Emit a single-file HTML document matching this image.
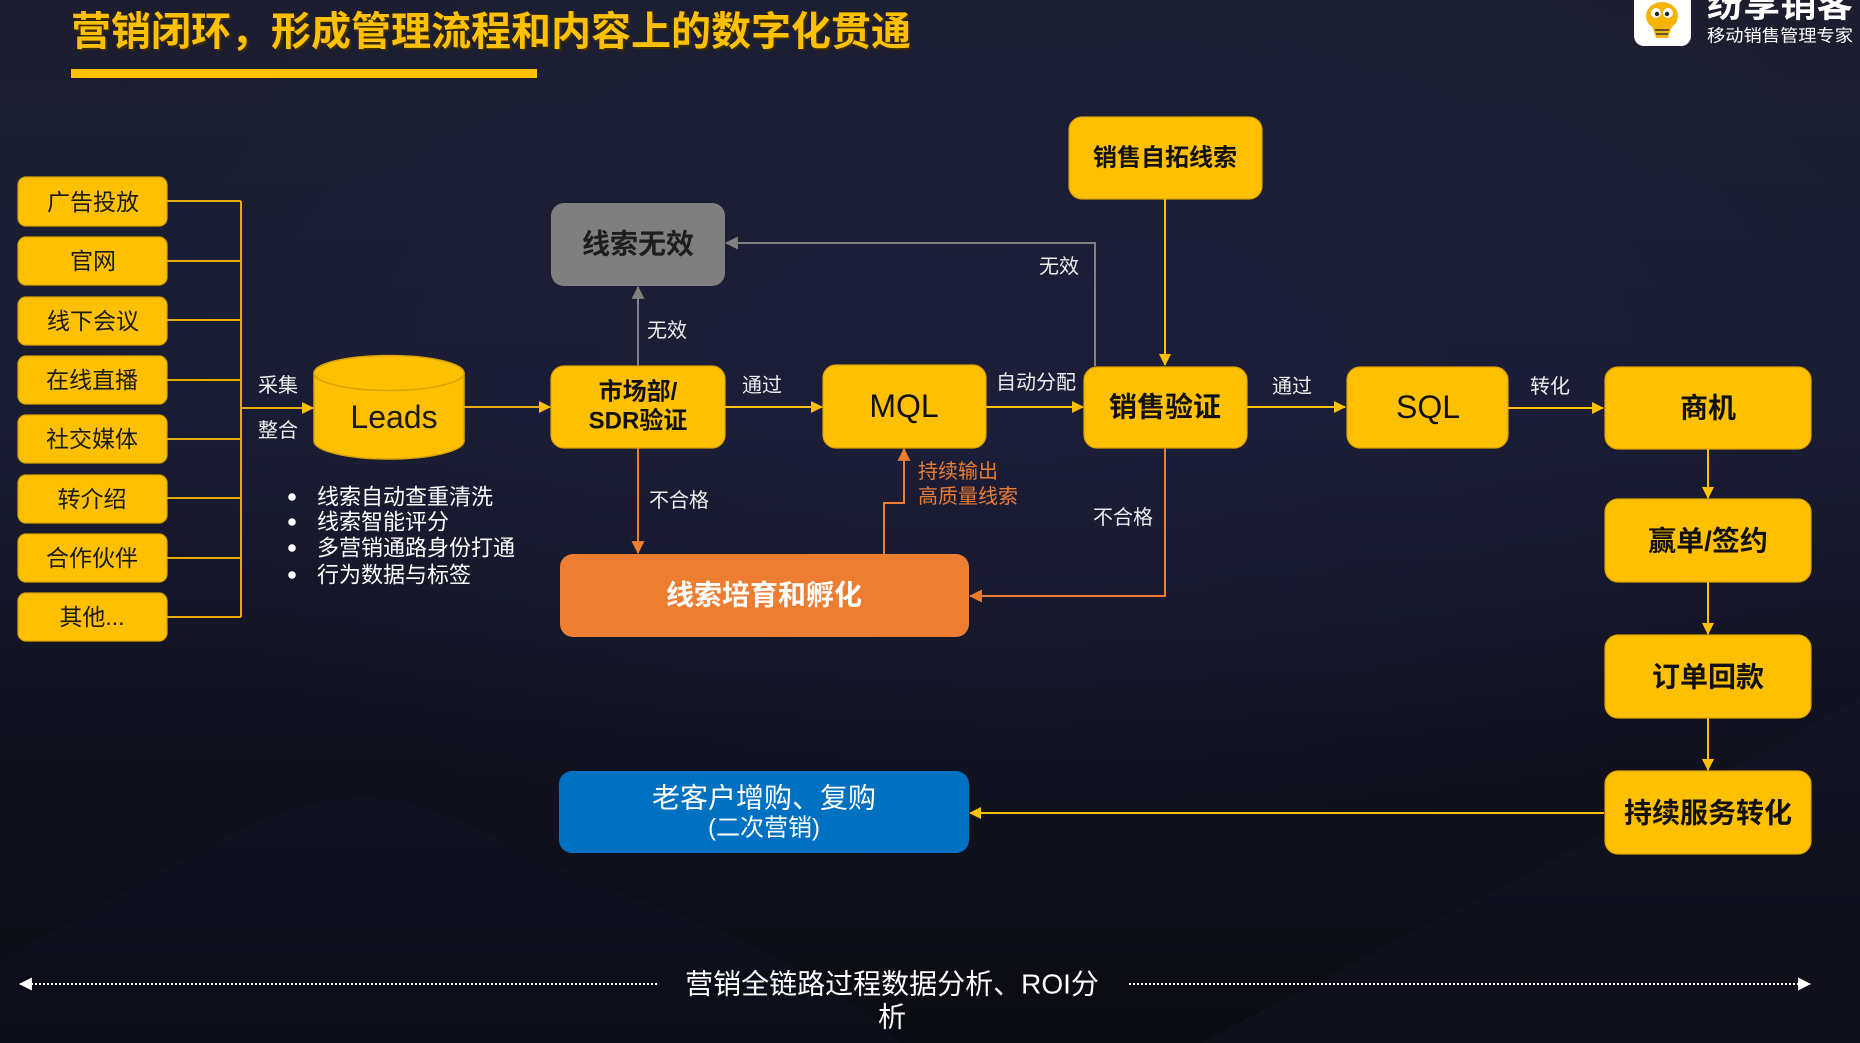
<!DOCTYPE html>
<html><head><meta charset="utf-8">
<style>
html,body{margin:0;padding:0;}
body{width:1860px;height:1043px;overflow:hidden;background:#11121d;}
svg{display:block;}
text{font-family:"Liberation Sans","Noto Sans CJK SC",sans-serif;}
</style></head>
<body>
<svg width="1860" height="1043" viewBox="0 0 1860 1043" xmlns="http://www.w3.org/2000/svg">
<defs>
<linearGradient id="bg" x1="0" y1="0" x2="0" y2="1">
<stop offset="0" stop-color="#1c1e30"/>
<stop offset="0.4" stop-color="#1a1c33"/>
<stop offset="0.7" stop-color="#11121f"/>
<stop offset="1" stop-color="#0a0b12"/>
</linearGradient>
<radialGradient id="glow" cx="0.55" cy="0.35" r="0.5">
<stop offset="0" stop-color="#1f2140" stop-opacity="0.5"/>
<stop offset="1" stop-color="#1f2140" stop-opacity="0"/>
</radialGradient>
<marker id="ay" viewBox="0 0 12 12" refX="11" refY="6" markerWidth="12" markerHeight="12" markerUnits="userSpaceOnUse" orient="auto"><path d="M0,0 L12,6 L0,12 z" fill="#FFC000"/></marker>
<marker id="ag" viewBox="0 0 12 12" refX="11" refY="6" markerWidth="13" markerHeight="13" markerUnits="userSpaceOnUse" orient="auto"><path d="M0,0 L12,6 L0,12 z" fill="#808080"/></marker>
<marker id="ao" viewBox="0 0 12 12" refX="11" refY="6" markerWidth="13" markerHeight="13" markerUnits="userSpaceOnUse" orient="auto"><path d="M0,0 L12,6 L0,12 z" fill="#ED7D31"/></marker>
<marker id="aw" viewBox="0 0 12 12" refX="11" refY="6" markerWidth="13" markerHeight="13" markerUnits="userSpaceOnUse" orient="auto"><path d="M0,0 L12,6 L0,12 z" fill="#ffffff"/></marker>
</defs>
<rect width="1860" height="1043" fill="url(#bg)"/>
<rect width="1860" height="1043" fill="url(#glow)"/>
<path d="M0,1043 L0,960 C120,900 220,820 330,800 C430,780 520,860 640,900 C760,940 860,1000 900,1043 Z" fill="#1a1d48" opacity="0.12"/>
<path d="M1200,1043 L1860,700 L1860,1043 Z" fill="#1a1c2e" opacity="0.25"/>

<!-- Title -->
<text x="73" y="34" font-size="40" font-weight="700" fill="#3a2c00" dominant-baseline="central">营销闭环，形成管理流程和内容上的数字化贯通</text>
<text x="71" y="32" font-size="40" font-weight="700" fill="#FFC000" dominant-baseline="central">营销闭环，形成管理流程和内容上的数字化贯通</text>
<rect x="71" y="69" width="466" height="9" fill="#FFC000"/>

<!-- Logo -->
<rect x="1634" y="-12" width="57" height="58" rx="10" fill="#ffffff"/>
<ellipse cx="1662" cy="16" rx="16" ry="14" fill="#F5B400"/>
<path d="M1652,26 L1672,26 L1668,38 L1656,38 Z" fill="#F5B400"/>
<line x1="1655" y1="30" x2="1669" y2="30" stroke="#333" stroke-width="1.5"/>
<line x1="1656" y1="34" x2="1668" y2="34" stroke="#333" stroke-width="1.5"/>
<circle cx="1656" cy="13" r="5" fill="#fff"/><circle cx="1668" cy="13" r="5" fill="#fff"/>
<circle cx="1657" cy="14" r="2.2" fill="#222"/><circle cx="1667" cy="14" r="2.2" fill="#222"/>
<text x="1707" y="4" font-size="36" font-weight="700" fill="#ffffff" dominant-baseline="central" textLength="146" lengthAdjust="spacingAndGlyphs">纷享销客</text>
<text x="1707" y="36" font-size="17" fill="#ffffff" dominant-baseline="central" textLength="146" lengthAdjust="spacingAndGlyphs">移动销售管理专家</text>

<!-- Left sources -->
<g fill="#FFC000" stroke="#D9A300" stroke-width="1.2">
<rect x="18" y="177" width="149" height="49" rx="8"/>
<rect x="18" y="237" width="149" height="48" rx="8"/>
<rect x="18" y="297" width="149" height="48" rx="8"/>
<rect x="18" y="356" width="149" height="48" rx="8"/>
<rect x="18" y="415" width="149" height="48" rx="8"/>
<rect x="18" y="475" width="149" height="48" rx="8"/>
<rect x="18" y="534" width="149" height="48" rx="8"/>
<rect x="18" y="593" width="149" height="48" rx="8"/>
</g>
<g font-size="23" fill="#1a1a1a" text-anchor="middle" dominant-baseline="central">
<text x="93" y="202">广告投放</text>
<text x="93" y="261">官网</text>
<text x="93" y="321">线下会议</text>
<text x="92" y="380">在线直播</text>
<text x="92" y="439">社交媒体</text>
<text x="92" y="499">转介绍</text>
<text x="92" y="558">合作伙伴</text>
<text x="92" y="617">其他...</text>
</g>
<g stroke="#E6AC00" stroke-width="2" fill="none">
<path d="M167,201 H241 M167,261 H241 M167,320 H241 M167,380 H241 M167,439 H241 M167,498 H241 M167,558 H241 M167,617 H241"/>
<line x1="241" y1="201" x2="241" y2="617"/>
</g>
<line x1="241" y1="408" x2="313" y2="408" stroke="#E6AC00" stroke-width="2" marker-end="url(#ay)"/>
<text x="258" y="386" font-size="20" fill="#f0f0f0" dominant-baseline="central">采集</text>
<text x="258" y="431" font-size="20" fill="#f0f0f0" dominant-baseline="central">整合</text>

<!-- Cylinder -->
<path d="M314,373 L314,441 A75,18 0 0 0 464,441 L464,373 Z" fill="#FFC000" stroke="#D9A300" stroke-width="1.5"/>
<ellipse cx="389" cy="373" rx="75" ry="17.5" fill="#FFC000" stroke="#D9A300" stroke-width="1.5"/>
<text x="394" y="417" font-size="32" fill="#1a1a1a" text-anchor="middle" dominant-baseline="central">Leads</text>
<line x1="464" y1="407" x2="550" y2="407" stroke="#E6AC00" stroke-width="2" marker-end="url(#ay)"/>

<!-- Bullets -->
<g fill="#ffffff"><circle cx="292" cy="497" r="3.8"/><circle cx="292" cy="522" r="3.8"/><circle cx="292" cy="548" r="3.8"/><circle cx="292" cy="575" r="3.8"/></g>
<g font-size="22" fill="#ffffff" dominant-baseline="central">
<text x="317" y="497">线索自动查重清洗</text>
<text x="317" y="522">线索智能评分</text>
<text x="317" y="548">多营销通路身份打通</text>
<text x="317" y="575">行为数据与标签</text>
</g>

<!-- 线索无效 -->
<rect x="551" y="203" width="174" height="83" rx="13" fill="#7F7F7F"/>
<text x="638" y="244" font-size="28" font-weight="700" fill="#1e1e1e" text-anchor="middle" dominant-baseline="central">线索无效</text>

<!-- 市场部 -->
<rect x="551" y="366" width="174" height="82" rx="13" fill="#FFC000" stroke="#D9A300" stroke-width="1.2"/>
<text x="638" y="392" font-size="24" font-weight="700" fill="#111" text-anchor="middle" dominant-baseline="central">市场部/</text>
<text x="638" y="421" font-size="24" font-weight="700" fill="#111" text-anchor="middle" dominant-baseline="central">SDR验证</text>

<!-- gray connectors -->
<line x1="638" y1="366" x2="638" y2="287" stroke="#808080" stroke-width="2" marker-end="url(#ag)"/>
<text x="647" y="331" font-size="20" fill="#eeeeee" dominant-baseline="central">无效</text>
<path d="M1095,366 V243 H726" fill="none" stroke="#808080" stroke-width="2" marker-end="url(#ag)"/>
<text x="1039" y="267" font-size="20" fill="#eeeeee" dominant-baseline="central">无效</text>

<!-- MQL -->
<line x1="725" y1="407" x2="822" y2="407" stroke="#FFC000" stroke-width="2" marker-end="url(#ay)"/>
<text x="742" y="386" font-size="20" fill="#eeeeee" dominant-baseline="central">通过</text>
<rect x="823" y="365" width="163" height="83" rx="13" fill="#FFC000" stroke="#D9A300" stroke-width="1.2"/>
<text x="904" y="406" font-size="32" fill="#111" text-anchor="middle" dominant-baseline="central">MQL</text>
<line x1="986" y1="407" x2="1083" y2="407" stroke="#FFC000" stroke-width="2" marker-end="url(#ay)"/>
<text x="996" y="383" font-size="20" fill="#eeeeee" dominant-baseline="central">自动分配</text>

<!-- 销售自拓线索 -->
<rect x="1069" y="117" width="193" height="82" rx="13" fill="#FFC000" stroke="#D9A300" stroke-width="1.2"/>
<text x="1165" y="158" font-size="24" font-weight="700" fill="#111" text-anchor="middle" dominant-baseline="central">销售自拓线索</text>
<line x1="1165" y1="199" x2="1165" y2="365" stroke="#FFC000" stroke-width="2" marker-end="url(#ay)"/>

<!-- 销售验证 -->
<rect x="1084" y="367" width="163" height="81" rx="13" fill="#FFC000" stroke="#D9A300" stroke-width="1.2"/>
<text x="1165" y="407" font-size="28" font-weight="700" fill="#111" text-anchor="middle" dominant-baseline="central">销售验证</text>
<line x1="1247" y1="407" x2="1345" y2="407" stroke="#FFC000" stroke-width="2" marker-end="url(#ay)"/>
<text x="1272" y="387" font-size="20" fill="#eeeeee" dominant-baseline="central">通过</text>

<!-- SQL -->
<rect x="1347" y="367" width="161" height="81" rx="13" fill="#FFC000" stroke="#D9A300" stroke-width="1.2"/>
<text x="1428" y="407" font-size="32" fill="#111" text-anchor="middle" dominant-baseline="central">SQL</text>
<line x1="1508" y1="408" x2="1603" y2="408" stroke="#FFC000" stroke-width="2" marker-end="url(#ay)"/>
<text x="1530" y="387" font-size="20" fill="#eeeeee" dominant-baseline="central">转化</text>

<!-- right column -->
<g fill="#FFC000" stroke="#D9A300" stroke-width="1.2">
<rect x="1605" y="367" width="206" height="82" rx="13"/>
<rect x="1605" y="499" width="206" height="83" rx="13"/>
<rect x="1605" y="635" width="206" height="83" rx="13"/>
<rect x="1605" y="771" width="206" height="83" rx="13"/>
</g>
<g font-size="28" font-weight="700" fill="#111" text-anchor="middle" dominant-baseline="central">
<text x="1708" y="408">商机</text>
<text x="1708" y="541">赢单/签约</text>
<text x="1708" y="677">订单回款</text>
<text x="1708" y="813">持续服务转化</text>
</g>
<g stroke="#FFC000" stroke-width="2" fill="none">
<line x1="1708" y1="449" x2="1708" y2="498" marker-end="url(#ay)"/>
<line x1="1708" y1="582" x2="1708" y2="634" marker-end="url(#ay)"/>
<line x1="1708" y1="718" x2="1708" y2="770" marker-end="url(#ay)"/>
<line x1="1604" y1="813" x2="970" y2="813" marker-end="url(#ay)"/>
</g>

<!-- Nurture -->
<line x1="638" y1="448" x2="638" y2="553" stroke="#ED7D31" stroke-width="2" marker-end="url(#ao)"/>
<text x="649" y="501" font-size="20" fill="#eeeeee" dominant-baseline="central">不合格</text>
<rect x="560" y="554" width="409" height="83" rx="13" fill="#ED7D31"/>
<text x="764" y="595" font-size="28" font-weight="700" fill="#ffffff" text-anchor="middle" dominant-baseline="central">线索培育和孵化</text>
<path d="M884,554 V503 H904 V449" fill="none" stroke="#ED7D31" stroke-width="2" marker-end="url(#ao)"/>
<text x="918" y="472" font-size="20" fill="#ED7D31" dominant-baseline="central">持续输出</text>
<text x="918" y="497" font-size="20" fill="#ED7D31" dominant-baseline="central">高质量线索</text>
<path d="M1165,448 V596 H970" fill="none" stroke="#ED7D31" stroke-width="2" marker-end="url(#ao)"/>
<text x="1093" y="518" font-size="20" fill="#eeeeee" dominant-baseline="central">不合格</text>

<!-- Old customer -->
<rect x="559" y="771" width="410" height="82" rx="13" fill="#0070C0"/>
<text x="764" y="798" font-size="28" fill="#ffffff" text-anchor="middle" dominant-baseline="central">老客户增购、复购</text>
<text x="764" y="828" font-size="24" fill="#ffffff" text-anchor="middle" dominant-baseline="central">(二次营销)</text>

<!-- bottom -->
<line x1="657" y1="984" x2="20" y2="984" stroke="#ffffff" stroke-width="2" stroke-dasharray="2,2" marker-end="url(#aw)"/>
<line x1="1129" y1="984" x2="1810" y2="984" stroke="#ffffff" stroke-width="2" stroke-dasharray="2,2" marker-end="url(#aw)"/>
<text x="892" y="984" font-size="28" fill="#ffffff" text-anchor="middle" dominant-baseline="central">营销全链路过程数据分析、ROI分</text>
<text x="892" y="1017" font-size="28" fill="#ffffff" text-anchor="middle" dominant-baseline="central">析</text>
</svg>
</body></html>
